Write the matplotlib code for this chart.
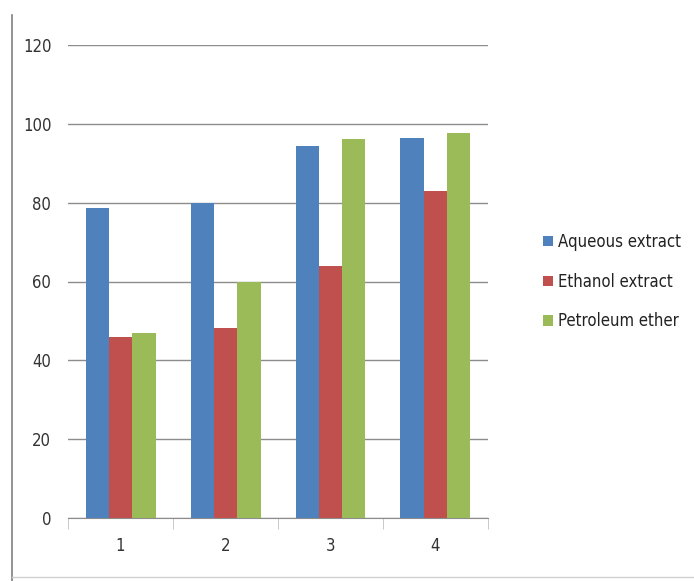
import matplotlib.pyplot as plt
import numpy as np
from matplotlib import font_manager

groups = ['1', '2', '3', '4']
series = ['Aqueous extract', 'Ethanol extract', 'Petroleum ether']
aqueous = [78.7, 80.0, 94.4, 96.4]
ethanol = [45.9, 48.2, 64.0, 83.0]
petroleum = [47.0, 60.0, 96.2, 97.7]
colors = ['#4F81BD', '#C0504D', '#9BBB59']

names = {f.name for f in font_manager.fontManager.ttflist}
font = 'Liberation Sans Narrow' if 'Liberation Sans Narrow' in names else 'DejaVu Sans'
plt.rcParams['font.family'] = [font, 'DejaVu Sans']
plt.rcParams['font.stretch'] = 'condensed'

fig = plt.figure(figsize=(6.94, 5.81), dpi=100)
ax = fig.add_axes([68 / 694, 1 - 518 / 581, 420 / 694, 473 / 581])

x = np.arange(len(groups))
w = 1 / 4.5
for i, (vals, c, name) in enumerate(zip([aqueous, ethanol, petroleum], colors, series)):
    ax.bar(x + (i - 1) * w, vals, width=w, color=c, label=name, zorder=3)

ax.set_xlim(-0.5, len(groups) - 0.5)
ax.set_ylim(0, 120)
ax.set_yticks(range(0, 121, 20))
ax.yaxis.grid(True, color='#8c8c8c', linewidth=1.0, zorder=0)
ax.set_xticks(x)
ax.set_xticklabels(groups)
ax.tick_params(axis='x', length=0, pad=14, labelsize=12, labelcolor='#333333')
ax.tick_params(axis='y', length=0, pad=12, labelsize=12, labelcolor='#333333')
# category separators below the axis
ax.set_xticks(np.arange(-0.5, len(groups)), minor=True)
ax.tick_params(axis='x', which='minor', length=8, color='#c0c0c0', direction='out')
for s in ['top', 'right', 'left']:
    ax.spines[s].set_visible(False)
ax.spines['bottom'].set_color('#8c8c8c')

leg = fig.legend(loc='upper left', bbox_to_anchor=(528 / 694, 1 - 218 / 581),
                 frameon=False, prop={'size': 12, 'stretch': 'condensed'},
                 handlelength=0.6, handleheight=0.6,
                 handletextpad=0.3, labelspacing=1.3)
for t in leg.get_texts():
    t.set_color('#222222')

# outer chart frame
fig.add_artist(plt.Line2D([12 / 694, 12 / 694], [0, 1 - 15 / 581], color='#808080', lw=1.2))
fig.add_artist(plt.Line2D([12 / 694, 1], [4 / 581, 4 / 581], color='#d0d0d0', lw=1.0))

fig.savefig('out.png', dpi=100)
